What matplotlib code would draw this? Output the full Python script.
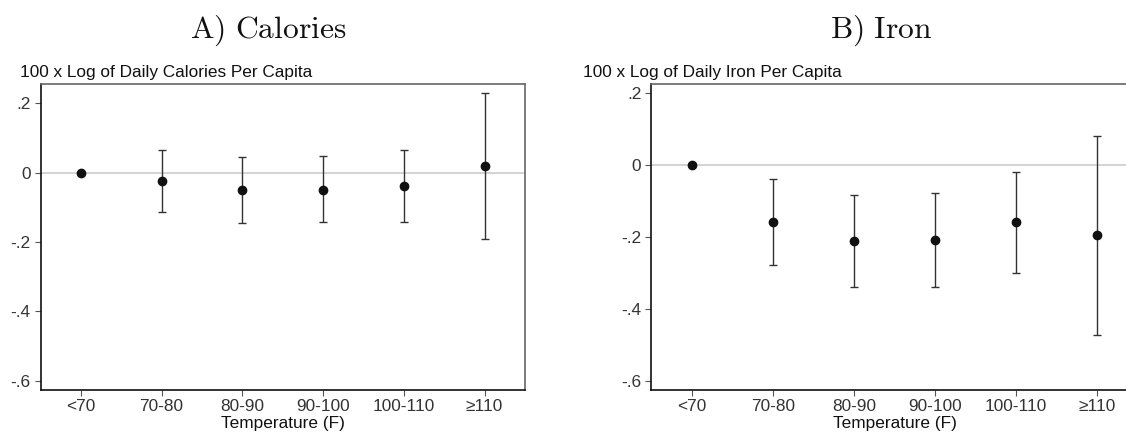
"""Two-panel coefficient plot: calories and iron vs temperature bins."""

import matplotlib

matplotlib.use("Agg")
import matplotlib.pyplot as plt

plt.rcParams["font.family"] = ["Liberation Sans", "DejaVu Sans"]
plt.rcParams["mathtext.fontset"] = "cm"

# --- data
bins = ["<70", "70-80", "80-90", "90-100", "100-110", "≥110"]

cal_est = [0.0, -0.023, -0.051, -0.049, -0.038, 0.019]
cal_lo = [None, -0.113, -0.145, -0.143, -0.141, -0.191]
cal_hi = [None, 0.066, 0.044, 0.049, 0.066, 0.231]

iron_est = [0.0, -0.158, -0.213, -0.208, -0.160, -0.196]
iron_lo = [None, -0.278, -0.341, -0.339, -0.300, -0.473]
iron_hi = [None, -0.039, -0.084, -0.078, -0.019, 0.081]

yticks = [0.2, 0.0, -0.2, -0.4, -0.6]
ytick_labels = [".2", "0", "-.2", "-.4", "-.6"]

TXT = "#333333"
BAR = "#333333"
FS = 12.4
W, H = 1126, 434


def panel(ax, est, lo, hi, ylim):
    x = list(range(1, len(bins) + 1))
    ax.axhline(0, color="#cccccc", lw=1.2, zorder=1)
    for xi, lo_i, hi_i in zip(x, lo, hi):
        if lo_i is None:  # reference bin, no interval
            continue
        half = (hi_i - lo_i) / 2
        ax.errorbar([xi], [lo_i + half], yerr=[[half], [half]], fmt="none", ecolor=BAR,
                    elinewidth=1.0, capsize=3.0, capthick=1.0, zorder=2)
    ax.plot(x, est, "o", color="#111111", ms=6, zorder=3)
    ax.set_xlim(0.5, 6.5)
    ax.set_ylim(*ylim)
    ax.set_xticks(x)
    ax.set_xticklabels(bins)
    ax.set_yticks(yticks)
    ax.set_yticklabels(ytick_labels)
    ax.tick_params(axis="both", labelsize=FS, color="#555555", labelcolor=TXT,
                   length=4.0, width=0.8, pad=3)
    ax.set_xlabel("Temperature (F)", fontsize=FS, color="#111111", labelpad=1.2)
    for side in ("left", "bottom"):
        ax.spines[side].set_color("#111111")
        ax.spines[side].set_linewidth(1.2)
    for side in ("top", "right"):
        ax.spines[side].set_color("#666666")
        ax.spines[side].set_linewidth(1.2)


fig = plt.figure(figsize=(W / 100, H / 100), dpi=100)

# axes placed in pixel terms so panel B runs past the right edge like the reference
axA = fig.add_axes([40.5 / W, 1 - 389.5 / H, (525 - 40.5) / W, (389.5 - 84.2) / H])
axB = fig.add_axes([651 / W, 1 - 389.5 / H, (1138 - 651) / W, (389.5 - 84.2) / H])

panel(axA, cal_est, cal_lo, cal_hi, (-0.625, 0.255))
panel(axB, iron_est, iron_lo, iron_hi, (-0.6245, 0.224))

# y-axis titles sit above the plot region, left-aligned (Stata style)
fig.text(20 / W, 1 - 77 / H, "100 x Log of Daily Calories Per Capita", fontsize=FS,
         color="#111111", ha="left", va="baseline")
fig.text(583 / W, 1 - 77 / H, "100 x Log of Daily Iron Per Capita", fontsize=FS,
         color="#111111", ha="left", va="baseline")

fig.text(268 / W, 1 - 37.5 / H, r"$\mathrm{A)\ Calories}$", fontsize=22.7,
         color="#111111", ha="center", va="baseline")
fig.text(881 / W, 1 - 37.5 / H, r"$\mathrm{B)\ Iron}$", fontsize=22.7,
         color="#111111", ha="center", va="baseline")

fig.savefig("out.png", dpi=100)
print("out.png")
